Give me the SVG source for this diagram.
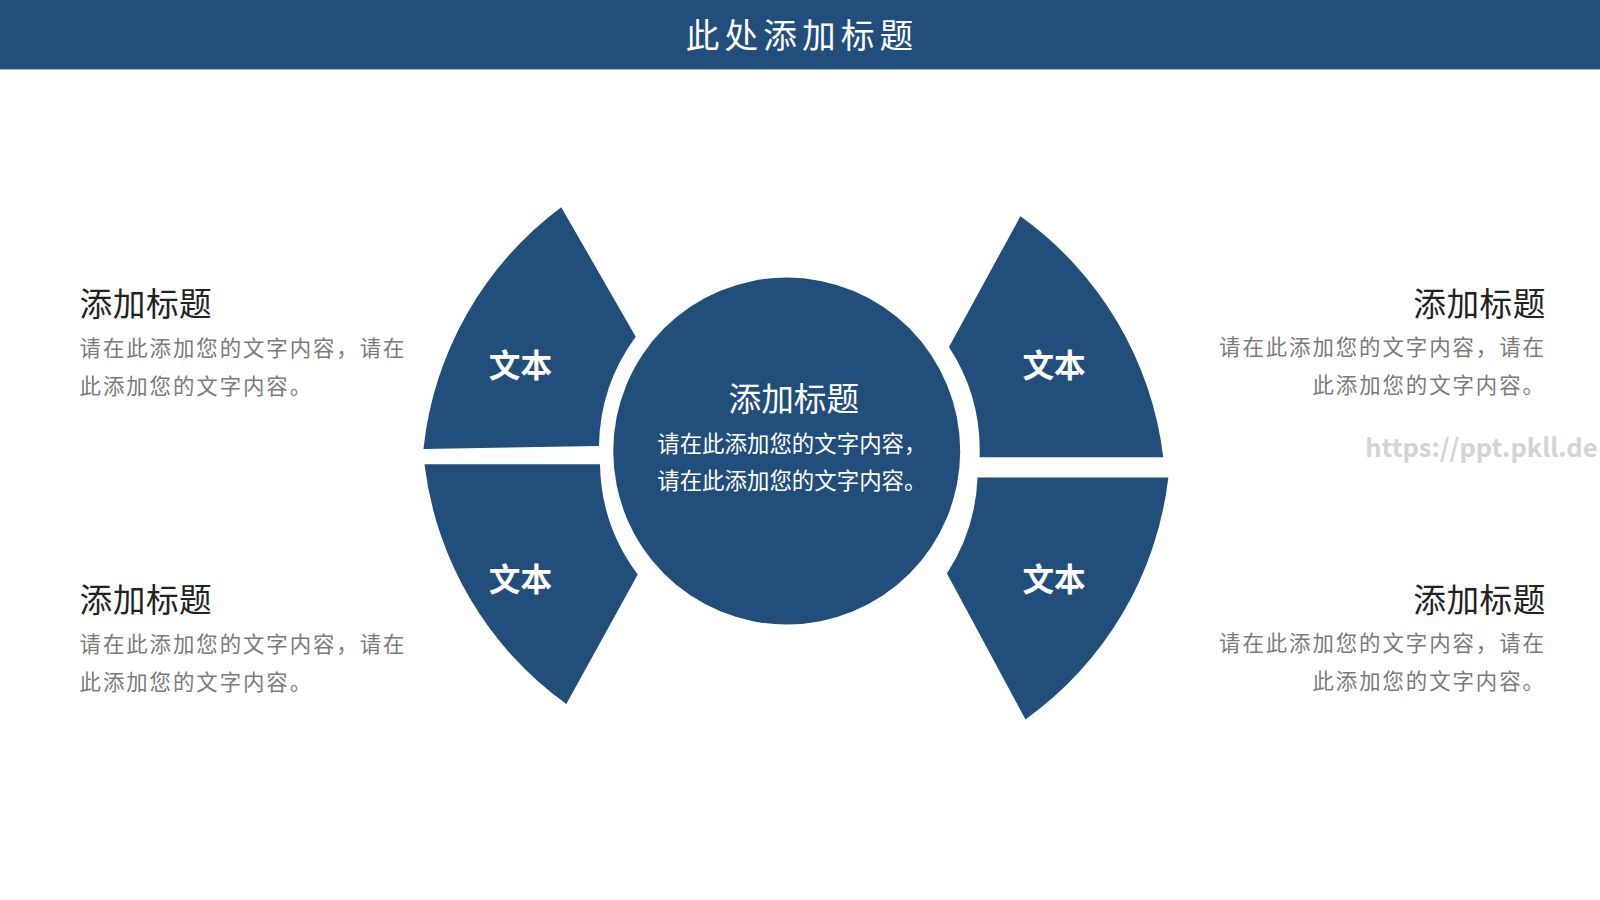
<svg xmlns="http://www.w3.org/2000/svg" width="1600" height="900" viewBox="0 0 1600 900">
<style>
.f{font-family:"Noto Sans CJK SC","Noto Sans",sans-serif}
.seg{fill:#224e7c}
.lab{fill:#fff;font-size:31px;font-weight:bold;text-anchor:middle}
.t{fill:#222;font-size:32px;letter-spacing:0.5px}
.b{fill:#7a7a7a;font-size:21px;letter-spacing:1.9px}
</style>
<rect width="1600" height="900" fill="#fff"/>
<g transform="scale(1.0204)">
<g id="header"><rect x="0" y="0" width="1568" height="68" fill="#224e7c"/>
<text class="f" x="786" y="47" fill="#fff" font-size="33" text-anchor="middle" letter-spacing="5">此处添加标题</text></g>
<g id="center"><circle cx="771" cy="442" r="170" class="seg"/>
<text class="f" x="778" y="403" fill="#fff" font-size="32" text-anchor="middle">添加标题</text>
<text class="f" x="776" y="443" fill="#fff" font-size="22" text-anchor="middle">请在此添加您的文字内容，</text>
<text class="f" x="776" y="479" fill="#fff" font-size="22" text-anchor="middle">请在此添加您的文字内容。</text></g>
<g id="seg-lt"><path class="seg" d="M550,203 A340 340 0 0 0 415,440 L587,437 A185 185 0 0 1 623,330 Z"/><text class="f lab" x="510" y="369">文本</text></g>
<g id="seg-lb"><path class="seg" d="M416,455 A340 340 0 0 0 555,690 L625,563 A185 185 0 0 1 588,455 Z"/><text class="f lab" x="510" y="579">文本</text></g>
<g id="seg-rt"><path class="seg" d="M1000,212 A340 340 0 0 1 1140,448 L960,448 A185 185 0 0 0 930,340 Z"/><text class="f lab" x="1033" y="369">文本</text></g>
<g id="seg-rb"><path class="seg" d="M1145,468 A340 340 0 0 1 1005,705 L928,562 A185 185 0 0 0 958,468 Z"/><text class="f lab" x="1033" y="579">文本</text></g>
<g id="txt-lt" class="f"><text class="t" x="78" y="310">添加标题</text><text class="b" x="78" y="349">请在此添加您的文字内容，请在</text><text class="b" x="78" y="386">此添加您的文字内容。</text></g>
<g id="txt-lb" class="f"><text class="t" x="78" y="600">添加标题</text><text class="b" x="78" y="639">请在此添加您的文字内容，请在</text><text class="b" x="78" y="676">此添加您的文字内容。</text></g>
<g id="txt-rt" class="f" text-anchor="end"><text class="t" x="1515" y="310">添加标题</text><text class="b" x="1515" y="348">请在此添加您的文字内容，请在</text><text class="b" x="1515" y="385">此添加您的文字内容。</text></g>
<g id="txt-rb" class="f" text-anchor="end"><text class="t" x="1515" y="600">添加标题</text><text class="b" x="1515" y="638">请在此添加您的文字内容，请在</text><text class="b" x="1515" y="675">此添加您的文字内容。</text></g>
<text class="f" x="1338" y="448" fill="#d4d4d4" font-size="25" font-weight="bold">https://ppt.pkll.de</text>
<g id="connectors"/>
</g>
</svg>
